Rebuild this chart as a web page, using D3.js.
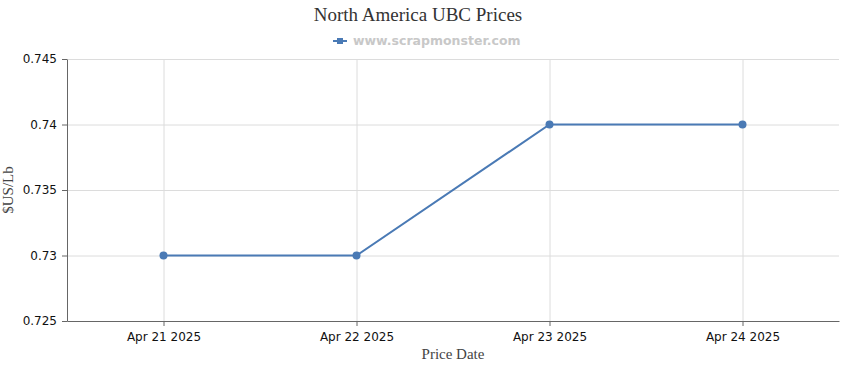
<!DOCTYPE html>
<html>
<head>
<meta charset="utf-8">
<script src="https://cdn.jsdelivr.net/npm/d3@7"></script>
<style>
  body { margin: 0; background: #fff; }
  .grid line { stroke: #dcdcdc; }
  .grid path { stroke: none; }
  .axis path, .axis line { stroke: #666; }
  .axis text { font-family: "DejaVu Sans", Verdana, sans-serif; font-size: 12px; fill: #111; }
  .label { font-family: "Liberation Serif", "Times New Roman", serif; font-size: 15px; fill: #444; }
</style>
</head>
<body>
<div id="chart"></div>
<script>
// data
var dates = ["Apr 21 2025", "Apr 22 2025", "Apr 23 2025", "Apr 24 2025"];
var prices = [0.73, 0.73, 0.74, 0.74];
var yTicks = [0.725, 0.73, 0.735, 0.74, 0.745];

var data = dates.map(function (d, i) { return { date: d, price: prices[i] }; });

// set the dimensions and margins of the graph
var margin = { top: 59, right: 11, bottom: 49, left: 67 },
    width = 850 - margin.left - margin.right,
    height = 370 - margin.top - margin.bottom;

var color = "#4a7ab5";

var root = d3.select("#chart")
    .append("svg")
    .attr("width", 850)
    .attr("height", 370);

var svg = root.append("g")
    .attr("transform", "translate(" + margin.left + "," + margin.top + ")");

var x = d3.scalePoint()
    .domain(dates)
    .range([0, width])
    .padding(0.5);

var y = d3.scaleLinear()
    .domain([0.725, 0.745])
    .range([height, 0]);

// gridlines
svg.append("g")
    .attr("class", "grid")
    .attr("transform", "translate(0," + height + ")")
    .call(d3.axisBottom(x).tickSize(-height).tickFormat(""));

svg.append("g")
    .attr("class", "grid")
    .call(d3.axisLeft(y).tickValues(yTicks).tickSize(-width).tickFormat(""));

// axes
svg.append("g")
    .attr("class", "axis")
    .attr("transform", "translate(0," + height + ")")
    .call(d3.axisBottom(x).tickSize(5).tickSizeOuter(0).tickPadding(6));

svg.append("g")
    .attr("class", "axis")
    .call(d3.axisLeft(y).tickValues(yTicks).tickFormat(function (d) { return d3.format("")(+d.toFixed(3)); }).tickSize(5).tickSizeOuter(0).tickPadding(5));

// line + points
svg.append("path")
    .datum(data)
    .attr("fill", "none")
    .attr("stroke", color)
    .attr("stroke-width", 2)
    .attr("d", d3.line()
        .x(function (d) { return x(d.date); })
        .y(function (d) { return y(d.price); }));

svg.selectAll(".dot")
    .data(data)
    .enter()
    .append("circle")
    .attr("class", "dot")
    .attr("cx", function (d) { return x(d.date); })
    .attr("cy", function (d) { return y(d.price); })
    .attr("r", 4)
    .attr("fill", color);

// labels
svg.append("text")
    .attr("class", "label")
    .attr("text-anchor", "middle")
    .attr("x", width / 2)
    .attr("y", height + 38)
    .text("Price Date");

svg.append("text")
    .attr("class", "label")
    .attr("text-anchor", "middle")
    .attr("transform", "rotate(-90)")
    .attr("x", -height / 2)
    .attr("y", -54)
    .text("$US/Lb");

// title
root.append("text")
    .attr("text-anchor", "middle")
    .attr("x", 418)
    .attr("y", 21)
    .style("font-family", "'Liberation Serif', 'Times New Roman', serif")
    .style("font-size", "19px")
    .style("fill", "#333")
    .text("North America UBC Prices");

// legend
var legend = root.append("g").attr("transform", "translate(333,41)");
legend.append("line")
    .attr("x1", 0).attr("x2", 14)
    .attr("stroke", color).attr("stroke-width", 2);
legend.append("rect")
    .attr("x", 4).attr("y", -3).attr("width", 6).attr("height", 6)
    .attr("fill", color);
legend.append("text")
    .attr("x", 20)
    .attr("y", 4)
    .style("font-family", "'DejaVu Sans', Verdana, sans-serif")
    .style("font-size", "12.5px")
    .style("font-weight", "bold")
    .style("fill", "#c8c8c8")
    .text("www.scrapmonster.com");
</script>
</body>
</html>
